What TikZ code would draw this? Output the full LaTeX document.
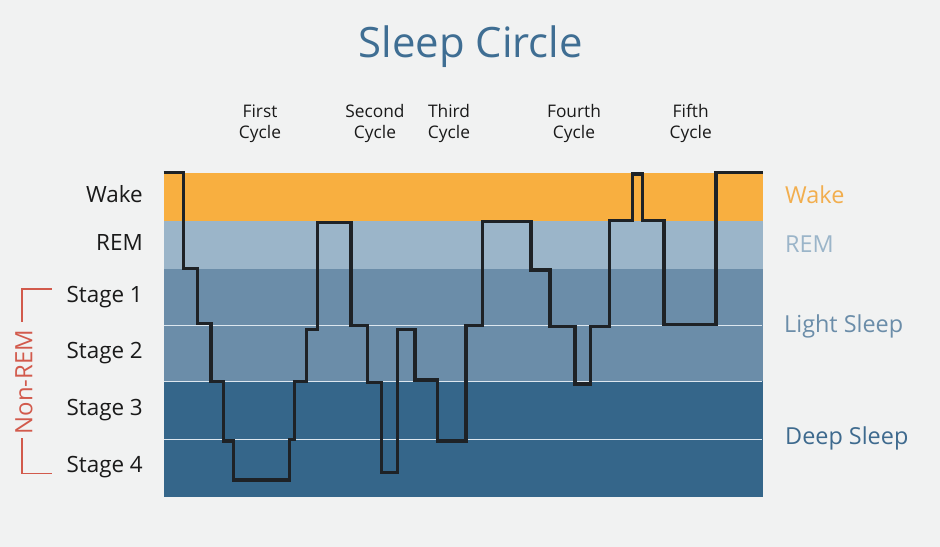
\documentclass[tikz,border=0pt]{standalone}
\usepackage{fontspec}
\setmainfont{Open Sans}
\definecolor{bg}{HTML}{F1F2F2}
\definecolor{wakec}{HTML}{F8AF40}
\definecolor{remc}{HTML}{9BB5C9}
\definecolor{lightc}{HTML}{6B8DA9}
\definecolor{deepc}{HTML}{35668A}
\definecolor{titlec}{HTML}{3F6E93}
\definecolor{nonrem}{HTML}{D25A4C}
\definecolor{curvec}{HTML}{1E2226}
\definecolor{sepc}{HTML}{DCE6EE}
\definecolor{txtc}{HTML}{1A1A1A}
\definecolor{deeptxt}{HTML}{3E6A8E}
\definecolor{wakeTxt}{HTML}{F2AE4E}
\tikzset{
  lefttag/.style={anchor=east,font=\fontsize{22.5}{26}\selectfont,text=txtc,inner sep=0pt},
  righttag/.style={anchor=west,font=\fontsize{23.5}{26}\selectfont,inner sep=0pt},
  cyctag/.style={align=center,font=\fontsize{17.4}{20.7}\selectfont,text=txtc,inner sep=0pt},
  sepline/.style={draw=sepc,line width=1.3bp},
  hypno/.style={draw=curvec,line width=3.2bp,line join=miter},
  brack/.style={draw=nonrem,line width=1.6bp}
}
\begin{document}
\begin{tikzpicture}[x=1bp,y=-1bp]
\useasboundingbox (0,0) rectangle (940,547);
\fill[bg] (0,0) rectangle (940,547);
% bands
\fill[wakec] (163.5,172.7) rectangle (763.3,221);
\fill[remc] (163.5,221) rectangle (763.3,269.3);
\fill[lightc] (163.5,269.3) rectangle (763.3,381.3);
\fill[deepc] (163.5,381.3) rectangle (763.3,497.3);
\draw[sepline] (163.5,325.7) -- (762,325.7);
\draw[sepline] (163.5,381.3) -- (762,381.3);
\draw[sepline] (163.5,439.3) -- (762,439.3);
% hypnogram
\draw[hypno] (163.5,172.7) -- (183.3,172.7) -- (183.3,268.3) -- (197.7,268.3) -- (197.7,323.3) -- (211,323.3) -- (211,381.3) -- (223.3,381.3) -- (223.3,441) -- (233.3,441) -- (233.3,480) -- (289.3,480) -- (289.3,439.3) -- (294.3,439.3) -- (294.3,381.3) -- (306.7,381.3) -- (306.7,329.3) -- (317.7,329.3) -- (317.7,222.3) -- (351,222.3) -- (351,325.7) -- (367.3,325.7) -- (367.3,382.7) -- (381.7,382.7) -- (381.7,472.7) -- (397.7,472.7) -- (397.7,329.3) -- (415,329.3) -- (415,380) -- (437.7,380) -- (437.7,441) -- (466,441) -- (466,325.7) -- (482.7,325.7) -- (482.7,221.3) -- (531,221.3) -- (531,270) -- (550,270) -- (550,326.7) -- (575,326.7) -- (575,384) -- (590.7,384) -- (590.7,326.7) -- (609.3,326.7) -- (609.3,220.3) -- (632.3,220.3) -- (632.3,174) -- (642.7,174) -- (642.7,220.3) -- (664,220.3) -- (664,324.7) -- (716,324.7) -- (716,172.7) -- (763.3,172.7);
% title
\node[text=titlec,font=\fontsize{42}{48}\selectfont,inner sep=0pt] (title) at (470.8,47) {Sleep Circle};
% cycles
\node[cyctag] (c1) at (260,123.5) {First\\Cycle};
\node[cyctag] (c2) at (375,123.5) {Second\\Cycle};
\node[cyctag] (c3) at (449,123.5) {Third\\Cycle};
\node[cyctag] (c4) at (574,123.5) {Fourth\\Cycle};
\node[cyctag] (c5) at (690.7,123.5) {Fifth\\Cycle};
% left labels
\node[lefttag] (lw) at (143,194.5) {Wake};
\node[lefttag] (lr) at (143,243) {REM};
\node[lefttag] (l1) at (143,297.5) {Stage 1};
\node[lefttag] (l2) at (143,353.5) {Stage 2};
\node[lefttag] (l3) at (143,410) {Stage 3};
\node[lefttag] (l4) at (143,467) {Stage 4};
% non-REM bracket
\node[rotate=90,text=nonrem,font=\fontsize{24}{28}\selectfont,inner sep=0pt] (nr) at (24,382) {Non-REM};
\coordinate (bt1) at (51.7,289);
\coordinate (bt2) at (21.7,289);
\coordinate (bt3) at (21.7,322);
\coordinate (bb1) at (21.7,438);
\coordinate (bb2) at (21.7,473.3);
\coordinate (bb3) at (51.7,473.3);
\draw[brack] (bt1) -- (bt2) -- (bt3);
\draw[brack] (bb1) -- (bb2) -- (bb3);
% right labels
\node[righttag,text=wakeTxt] (rw) at (785,195) {Wake};
\node[righttag,text=remc] (rr) at (785,244) {REM};
\node[righttag,text=lightc] (rl) at (784,326) {Light Sleep};
\node[righttag,text=deeptxt] (rd) at (785,438.5) {Deep Sleep};
\end{tikzpicture}
\end{document}
